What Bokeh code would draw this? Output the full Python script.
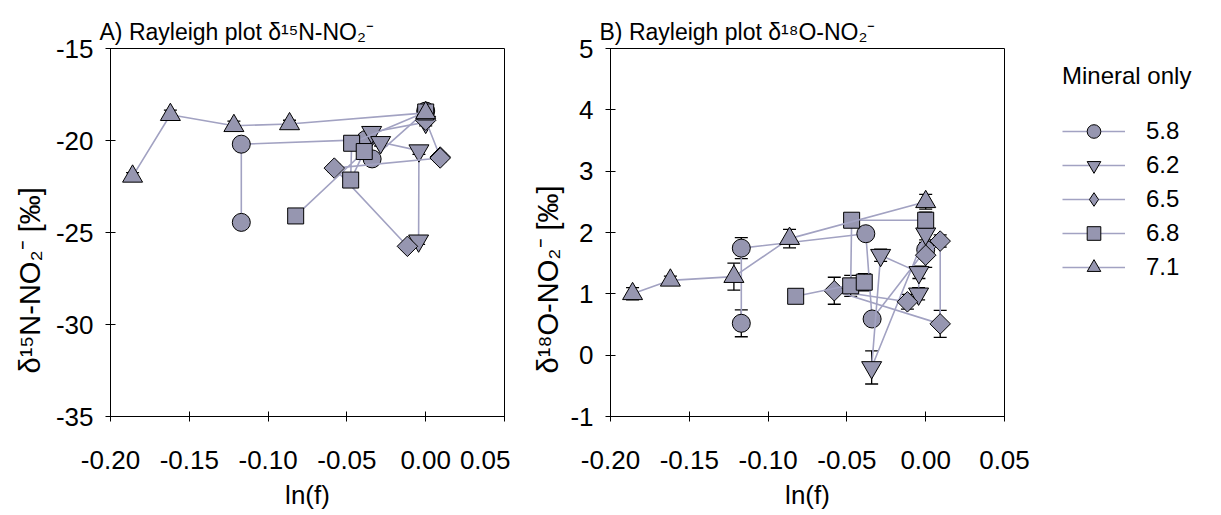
import numpy as np
from bokeh.plotting import figure
from bokeh.models import (ColumnDataSource, Whisker, TeeHead, Legend, LegendItem,
                          FixedTicker, Range1d, Title)
from bokeh.layouts import row
from bokeh.embed import file_html
from bokeh.resources import INLINE

# ---------------- data ----------------
series_labels = ["5.8", "6.2", "6.5", "6.8", "7.1"]
legend_title = "Mineral only"

x_ticks = [-0.20, -0.15, -0.10, -0.05, 0.00, 0.05]
n_ticks = [-35, -30, -25, -20, -15]
o_ticks = [-1, 0, 1, 2, 3, 4, 5]

# pH 5.8
lnf_58 = [0.0, -0.034, -0.038, -0.117, -0.117]
d15N_58 = [-18.4, -21.0, -19.95, -20.2, -24.45]
d15N_err_58 = [0.2, 0.2, 0.2, 0.2, 0.2]
d18O_58 = [1.72, 0.59, 1.98, 1.745, 0.52]
d18O_err_58 = [0.12, 0.05, 0.05, 0.17, 0.22]

# pH 6.2
lnf_62 = [0.0, -0.0343, -0.0286, -0.0043, -0.0045]
d15N_62 = [-19.0, -19.55, -20.1, -20.55, -25.45]
d15N_err_62 = [0.2, 0.3, 0.2, 0.2, 0.2]
d18O_62 = [1.98, -0.20, 1.63, 1.35, 1.0]
d18O_err_62 = [0.1, 0.27, 0.1, 0.1, 0.1]

# pH 6.5
lnf_65 = [0.0, 0.0092, 0.0092, -0.058, -0.0116]
d15N_65 = [-18.9, -20.9, -20.95, -21.5, -25.75]
d15N_err_65 = [0.2, 0.2, 0.2, 0.2, 0.2]
d18O_65 = [1.63, 1.86, 0.51, 1.05, 0.87]
d18O_err_65 = [0.2, 0.1, 0.22, 0.22, 0.12]

# pH 6.8
lnf_68 = [0.0, -0.047, -0.0476, -0.039, -0.0825]
d15N_68 = [-18.45, -20.15, -22.15, -20.6, -24.1]
d15N_err_68 = [0.2, 0.2, 0.25, 0.2, 0.25]
d18O_68 = [2.2, 2.2, 1.13, 1.19, 0.96]
d18O_err_68 = [0.13, 0.05, 0.17, 0.14, 0.03]

# pH 7.1
lnf_71 = [0.0, -0.0864, -0.1217, -0.162, -0.186]
d15N_71 = [-18.5, -19.1, -19.2, -18.6, -21.95]
d15N_err_71 = [0.25, 0.2, 0.25, 0.25, 0.2]
d18O_71 = [2.5, 1.9, 1.28, 1.22, 1.0]
d18O_err_71 = [0.12, 0.15, 0.22, 0.07, 0.1]

series = [
    (lnf_58, d15N_58, d15N_err_58, d18O_58, d18O_err_58),
    (lnf_62, d15N_62, d15N_err_62, d18O_62, d18O_err_62),
    (lnf_65, d15N_65, d15N_err_65, d18O_65, d18O_err_65),
    (lnf_68, d15N_68, d15N_err_68, d18O_68, d18O_err_68),
    (lnf_71, d15N_71, d15N_err_71, d18O_71, d18O_err_71),
]

# ---------------- styles ----------------
FONT = "Liberation Sans"
FILL = "#9696B0"
LINE = "#A2A2C2"
marker_style = [
    dict(marker="circle", size=18, angle=0.0, legend_marker=None),
    dict(marker="inverted_triangle", size=20, angle=0.0, legend_marker=None),
    dict(marker="square", size=14.5, angle=np.pi / 4, legend_marker="diamond"),
    dict(marker="square", size=16, angle=0.0, legend_marker=None),
    dict(marker="triangle", size=20, angle=0.0, legend_marker=None),
]


def make_panel(which, title, ylabel, yrange, yticks, left_border, right_border,
               ylab_standoff):
    p = figure(frame_width=394, frame_height=368, output_backend="svg",
               toolbar_location=None, x_range=Range1d(-0.20, 0.05),
               y_range=Range1d(*yrange),
               min_border_left=left_border, min_border_right=right_border,
               min_border_top=48, min_border_bottom=83)
    p.background_fill_color = "white"
    p.border_fill_color = "white"
    p.outline_line_color = "black"
    p.outline_line_width = 1
    p.grid.visible = False

    p.title = Title(text=title, align="left", offset=-11, standoff=8,
                    text_font=FONT, text_font_size="23px", text_font_style="normal",
                    text_color="black")

    for ax in (p.xaxis[0], p.yaxis[0]):
        ax.axis_line_color = "black"
        ax.major_tick_line_color = "black"
        ax.minor_tick_line_color = None
        ax.major_tick_in = 5
        ax.major_tick_out = 5
        ax.major_label_text_font = FONT
        ax.major_label_text_font_size = "26px"
        ax.major_label_text_color = "black"
        ax.axis_label_text_font = FONT
        ax.axis_label_text_font_size = "26px"
        ax.axis_label_text_font_style = "normal"
        ax.axis_label_text_color = "black"

    p.xaxis.ticker = FixedTicker(ticks=x_ticks)
    p.xaxis.major_label_overrides = {v: f"{v:.2f}" for v in x_ticks}
    p.xaxis.major_label_standoff = 29
    p.xaxis.axis_label = "ln(f)"
    p.xaxis.axis_label_standoff = 8

    p.yaxis.ticker = FixedTicker(ticks=yticks)
    p.yaxis.major_label_overrides = {v: f"{v:d}" for v in yticks}
    p.yaxis.major_label_standoff = 12

    # y axis title as a side title so it can sit slightly below centre, as in the reference
    ytitle = Title(text=ylabel, align="left", offset=43, standoff=ylab_standoff,
                   text_font=FONT, text_font_size="29px", text_font_style="normal",
                   text_color="black")
    p.add_layout(ytitle, "left")

    items = []
    for lab, (xs, n, ne, o, oe), st in zip(series_labels, series, marker_style):
        y = np.array(n if which == "N" else o, dtype=float)
        e = np.array(ne if which == "N" else oe, dtype=float)
        src = ColumnDataSource(dict(x=xs, y=y, lo=y - e, hi=y + e))
        lr = p.line("x", "y", source=src, line_color=LINE, line_width=1.6)
        w = Whisker(source=src, base="x", lower="lo", upper="hi", dimension="height",
                    line_color="black", line_width=1.3,
                    upper_head=TeeHead(size=13, line_color="black", line_width=1.3),
                    lower_head=TeeHead(size=13, line_color="black", line_width=1.3))
        p.add_layout(w)
        sr = p.scatter("x", "y", source=src, marker=st["marker"], size=st["size"],
                       angle=st["angle"], fill_color=FILL, line_color="black",
                       line_width=1)
        key = sr
        if st["legend_marker"] is not None:
            # legend glyphs ignore the rotation angle, so use a hidden diamond key
            key = p.scatter("x", "y", source=src, marker=st["legend_marker"],
                            size=st["size"], fill_color=FILL, line_color="black",
                            line_width=1, visible=False)
        items.append(LegendItem(label=lab, renderers=[lr, key]))
    return p, items


pA, _ = make_panel("N", "A) Rayleigh plot \u03b4\u00b9\u2075N-NO\u2082\u207b",
                   "\u03b4\u00b9\u2075N-NO\u2082\u207b [\u2030]",
                   (-35, -15), n_ticks, 110, 6, 14)
pB, items = make_panel("O", "B) Rayleigh plot \u03b4\u00b9\u2078O-NO\u2082\u207b",
                       "\u03b4\u00b9\u2078O-NO\u2082\u207b [\u2030]",
                       (-1, 5), o_ticks, 100, 201, 8)

legend = Legend(items=items, location=(58, 132), title=legend_title,
                title_text_font=FONT, title_text_font_size="24px",
                title_text_font_style="normal", title_text_color="black",
                title_standoff=24,
                label_text_font=FONT, label_text_font_size="24px",
                label_text_color="black", label_standoff=21,
                glyph_width=63, glyph_height=34, spacing=0,
                padding=0, margin=0, border_line_color=None,
                background_fill_alpha=0, click_policy="none")
pB.add_layout(legend, "right")

layout = row(pA, pB)
open("out.html", "w").write(file_html(layout, INLINE))
